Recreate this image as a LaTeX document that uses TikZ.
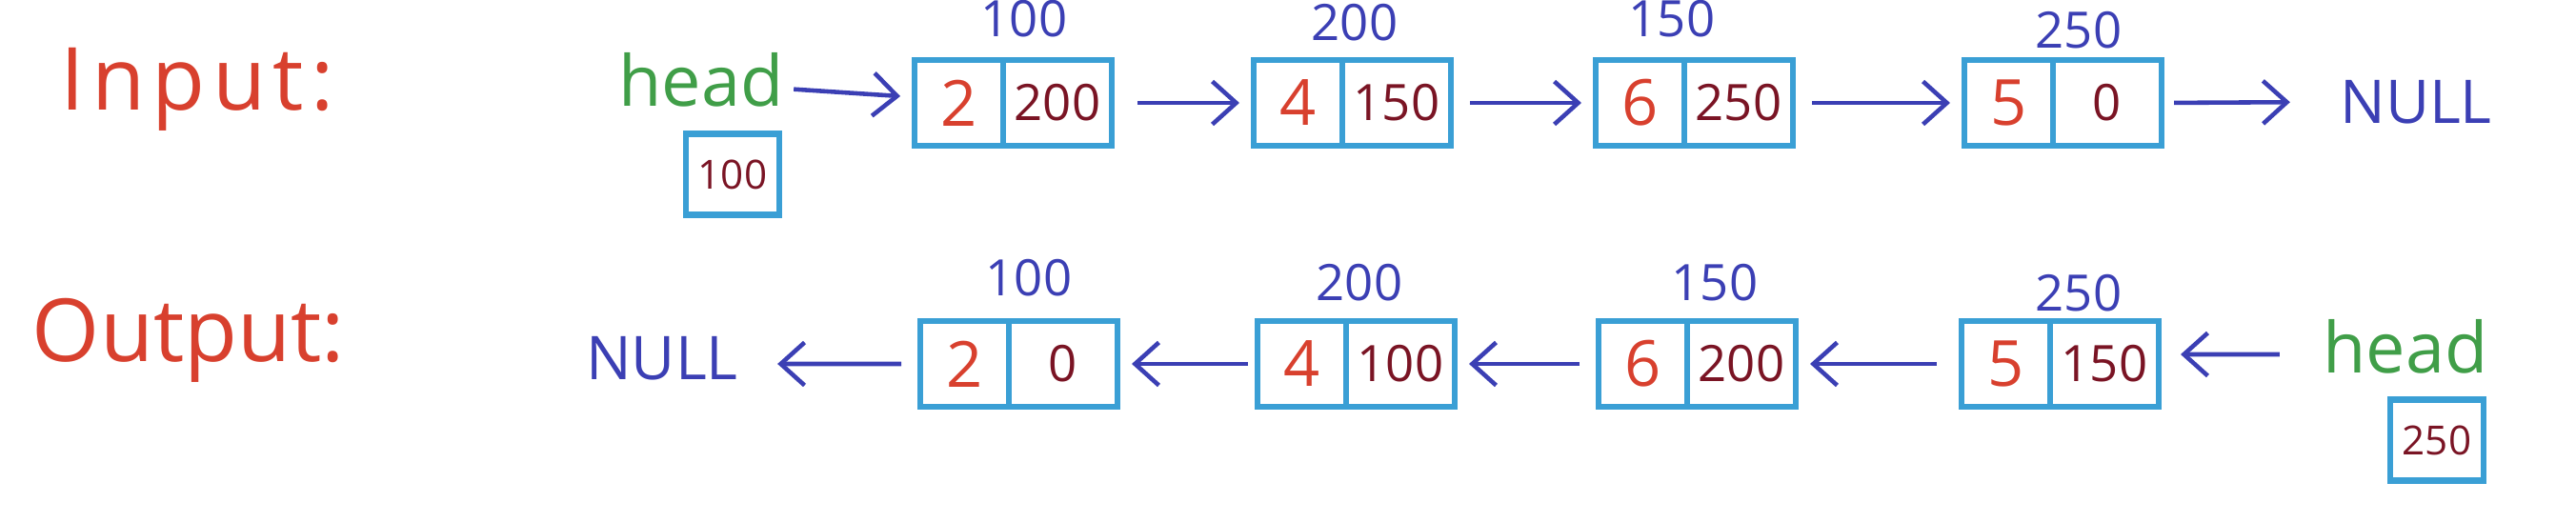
\documentclass[tikz,border=0pt]{standalone}
\usepackage{fontspec}
\setmainfont{Open Sans}
\usetikzlibrary{positioning,arrows.meta}

\definecolor{penred}{HTML}{D8402E}
\definecolor{penmaroon}{HTML}{7A1424}
\definecolor{penblue}{HTML}{3B3FB4}
\definecolor{pengreen}{HTML}{409E48}
\definecolor{boxblue}{HTML}{3A9FD5}

\tikzset{
  datacell/.style = {draw = boxblue, line width = 1.8pt, outer sep = 0pt,
    minimum width = 0.93cm, minimum height = 0.90cm, inner sep = 0pt,
    anchor = west, text = penred, font = \fontsize{19}{19}\selectfont},
  ptrcell/.style = {draw = boxblue, line width = 1.8pt, outer sep = 0pt,
    minimum width = 1.14cm, minimum height = 0.90cm, inner sep = 0pt,
    text = penmaroon, font = \fontsize{15}{15}\selectfont},
  addr/.style = {text = penblue, font = \fontsize{15}{15}\selectfont},
  headbox/.style = {draw = boxblue, line width = 1.8pt, minimum width = 0.98cm,
    minimum height = 0.85cm, inner sep = 0pt,
    text = penmaroon, font = \fontsize{12}{12}\selectfont},
  title/.style = {text = penred, font = \fontsize{26}{26}\selectfont},
  nulltext/.style = {text = penblue, font = \fontsize{18}{18}\selectfont},
  headtext/.style = {text = pengreen, inner sep = 0pt, font = \fontsize{21}{21}\selectfont},
  link/.style = {draw = penblue, line width = 1.3pt,
    -{Straight Barb[length = 2.5mm, width = 4.5mm]},
    shorten < = 2mm, shorten > = 1.5mm}
}

\begin{document}
\begin{tikzpicture}
      \useasboundingbox (0, 0) rectangle (27.04, 5.48);

      % input list
      \node[title] (inLabel) at (2.07, 4.54) {\addfontfeature{LetterSpace = 8}Input:};
      \node[headtext] (headIn) at (7.36, 4.64) {head};
      \node[headbox] (headInBox) at (7.69, 3.65) {100};

      \node[datacell] (in1d) at (9.60, 4.40) {2};
      \node[ptrcell, right = 0pt of in1d] (in1p) {200};
      \node[addr] (in1a) at (10.75, 5.28) {100};

      \node[datacell] (in2d) at (13.16, 4.40) {4};
      \node[ptrcell, right = 0pt of in2d] (in2p) {150};
      \node[addr] (in2a) at (14.22, 5.24) {200};

      \node[datacell] (in3d) at (16.75, 4.40) {6};
      \node[ptrcell, right = 0pt of in3d] (in3p) {250};
      \node[addr] (in3a) at (17.55, 5.28) {150};

      \node[datacell] (in4d) at (20.62, 4.40) {5};
      \node[ptrcell, right = 0pt of in4d] (in4p) {0};
      \node[addr] (in4a) at (21.82, 5.16) {250};

      \node[nulltext] (nullIn) at (25.36, 4.41) {NULL};

      \draw[link, shorten < = 1mm] ([yshift = -0.9mm]headIn.east) -- ([yshift = 0.6mm]in1d.west);
      \draw[link, shorten < = 2.7mm] (in1p.east) -- (in2d.west);
      \draw[link] (in2p.east) -- (in3d.west);
      \draw[link] (in3p.east) -- (in4d.west);
      \draw[link, shorten < = 1.3mm, shorten > = 4mm] (in4p.east) -- (nullIn.west);

      % output list
      \node[title] (outLabel) at (1.98, 1.91) {Output:};
      \node[nulltext] (nullOut) at (6.95, 1.72) {NULL};

      \node[datacell] (out1d) at (9.66, 1.66) {2};
      \node[ptrcell, right = 0pt of out1d] (out1p) {0};
      \node[addr] (out1a) at (10.80, 2.56) {100};

      \node[datacell] (out2d) at (13.20, 1.66) {4};
      \node[ptrcell, right = 0pt of out2d] (out2p) {100};
      \node[addr] (out2a) at (14.27, 2.51) {200};

      \node[datacell] (out3d) at (16.78, 1.66) {6};
      \node[ptrcell, right = 0pt of out3d] (out3p) {200};
      \node[addr] (out3a) at (18.00, 2.51) {150};

      \node[datacell] (out4d) at (20.59, 1.66) {5};
      \node[ptrcell, right = 0pt of out4d] (out4p) {150};
      \node[addr] (out4a) at (21.82, 2.40) {250};

      \node[headtext] (headOut) at (25.25, 1.84) {head};
      \node[headbox] (headOutBox) at (25.58, 0.86) {250};

      \draw[link, shorten > = 2.9mm] (out1d.west) -- ([yshift = -0.6mm]nullOut.east);
      \draw[link, shorten < = 1mm] (out2d.west) -- (out1p.east);
      \draw[link] (out3d.west) -- (out2p.east);
      \draw[link, shorten < = 2.6mm] (out4d.west) -- (out3p.east);
      \draw[link, shorten < = 4.5mm, shorten > = 2.3mm] ([yshift = -0.8mm]headOut.west) -- ([yshift = 1mm]out4p.east);

    \end{tikzpicture}
\end{document}
